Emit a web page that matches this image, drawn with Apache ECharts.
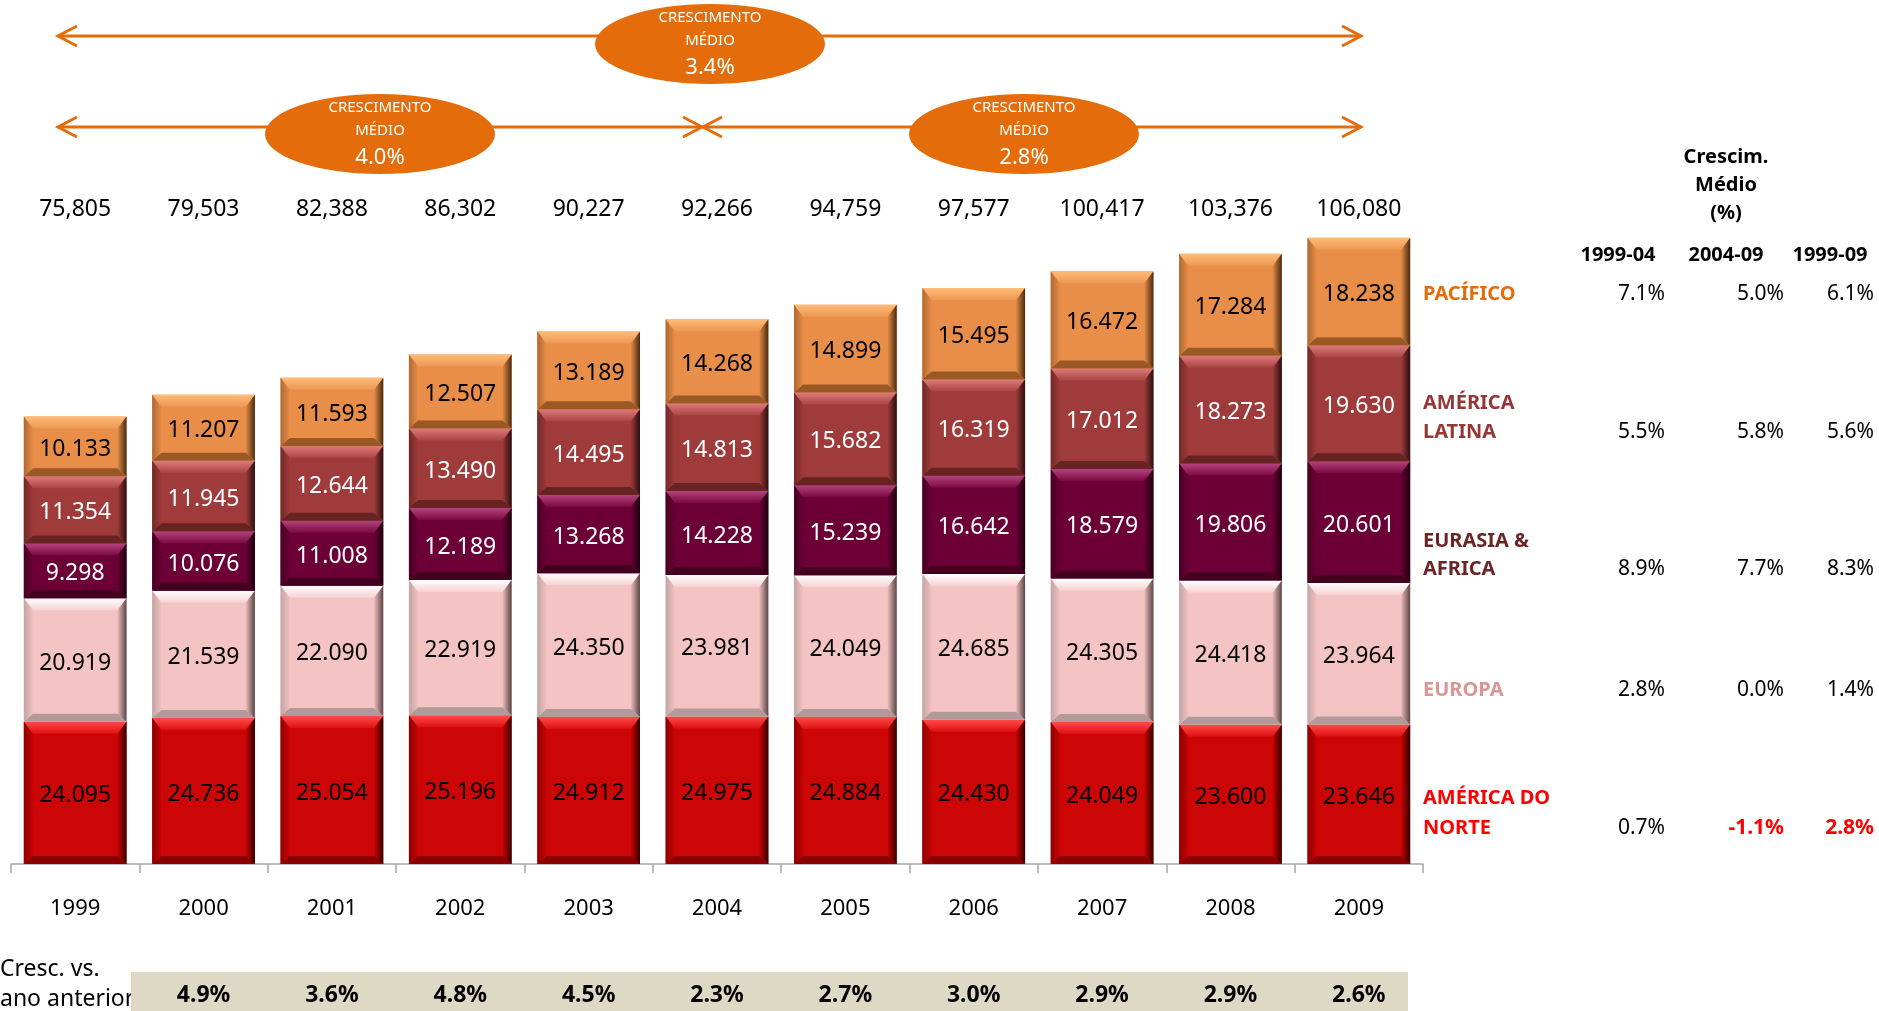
<!DOCTYPE html>
<html><head><meta charset="utf-8">
<script src="https://cdn.jsdelivr.net/npm/echarts@6/dist/echarts.min.js"></script>
<style>html,body{margin:0;padding:0;background:#fff}#c{width:1879px;height:1011px}</style>
</head><body><div id="c"></div>
<script>
// ---------- DATA ----------
const years = ['1999','2000','2001','2002','2003','2004','2005','2006','2007','2008','2009'];
const americaNorte = [24.095, 24.736, 25.054, 25.196, 24.912, 24.975, 24.884, 24.430, 24.049, 23.600, 23.646];
const europa       = [20.919, 21.539, 22.090, 22.919, 24.350, 23.981, 24.049, 24.685, 24.305, 24.418, 23.964];
const eurasiaAfrica= [9.298, 10.076, 11.008, 12.189, 13.268, 14.228, 15.239, 16.642, 18.579, 19.806, 20.601];
const americaLatina= [11.354, 11.945, 12.644, 13.490, 14.495, 14.813, 15.682, 16.319, 17.012, 18.273, 19.630];
const pacifico     = [10.133, 11.207, 11.593, 12.507, 13.189, 14.268, 14.899, 15.495, 16.472, 17.284, 18.238];
const totals = [75805, 79503, 82388, 86302, 90227, 92266, 94759, 97577, 100417, 103376, 106080];
const growthVsPrev = [null, 4.9, 3.6, 4.8, 4.5, 2.3, 2.7, 3.0, 2.9, 2.9, 2.6];
const avgGrowth = [3.4, 4.0, 2.8]; // 1999-09, 1999-04, 2004-09
const periodLabels = ['1999-04', '2004-09', '1999-09'];
const regionNames = [['PACÍFICO'], ['AMÉRICA', 'LATINA'], ['EURASIA &', 'AFRICA'], ['EUROPA'], ['AMÉRICA DO', 'NORTE']];
const cagr9904 = [7.1, 5.5, 8.9, 2.8, 0.7];
const cagr0409 = [5.0, 5.8, 7.7, 0.0, -1.1];
const cagr9909 = [6.1, 5.6, 8.3, 1.4, 2.8];

// ---------- STYLE ----------
const FONT = '"Noto Sans", "Open Sans", sans-serif';
const seriesDefs = [
  {name:'AMÉRICA DO NORTE', data: americaNorte, base:'#CC0606', top:['#FF4A4A','#DE1010'], bottom:'#8A0000', left:['#8E0000','#C40404'], right:['#C40404','#330000'], label:'#000'},
  {name:'EUROPA', data: europa, base:'#F4C4C4', top:['#FFFFFF','#F6D2D2'], bottom:'#B39A9A', left:['#C4A4A4','#F0C0C0'], right:['#EBBABA','#5A4646'], label:'#000'},
  {name:'EURASIA & AFRICA', data: eurasiaAfrica, base:'#6C0036', top:['#B4447E','#7A0842'], bottom:'#42001E', left:['#48001F','#680034'], right:['#680034','#1E000E'], label:'#fff'},
  {name:'AMÉRICA LATINA', data: americaLatina, base:'#A03B3C', top:['#E07A7A','#A84444'], bottom:'#672222', left:['#742828','#9C3A3A'], right:['#9C3A3A','#2C0F0F'], label:'#fff'},
  {name:'PACÍFICO', data: pacifico, base:'#E98E49', top:['#FFBC78','#EC9852'], bottom:'#9A5824', left:['#B06830','#E48C48'], right:['#E08A46','#4A2A10'], label:'#000'}
];

function grad(c, horiz) {
  return new echarts.graphic.LinearGradient(0, 0, horiz ? 1 : 0, horiz ? 0 : 1, [{offset:0,color:c[0]},{offset:1,color:c[1]}]);
}

// stacked bases
const bases = years.map(() => 0);
const series = seriesDefs.map(def => {
  const data = def.data.map((v, i) => {
    const b = bases[i];
    bases[i] += v;
    return [i, b, b + v, v];
  });
  return {
    type: 'custom', name: def.name, coordinateSystem: 'cartesian2d', xAxisIndex: 0, yAxisIndex: 0,
    encode: {x: 0, y: [1, 2]},
    data,
    renderItem: function (params, api) {
      const xi = api.value(0);
      const pTop = api.coord([xi, api.value(2)]);
      const pBot = api.coord([xi, api.value(1)]);
      const bw = api.size([1, 0])[0] * 0.8;
      const x0 = pTop[0] - bw / 2, x1 = x0 + bw;
      const y0 = pTop[1], y1 = pBot[1];
      const h = y1 - y0;
      const bt = Math.min(12, h / 3), bb = Math.min(8, h / 4), bs = 9;
      return {
        type: 'group',
        children: [
          {type:'rect', shape:{x:x0, y:y0, width:bw, height:h}, style:{fill:def.base}},
          {type:'polygon', shape:{points:[[x0,y0],[x1,y0],[x1-bs,y0+bt],[x0+bs,y0+bt]]}, style:{fill:grad(def.top,false)}},
          {type:'polygon', shape:{points:[[x0,y1],[x1,y1],[x1-bs,y1-bb],[x0+bs,y1-bb]]}, style:{fill:def.bottom}},
          {type:'polygon', shape:{points:[[x0,y0],[x0+bs,y0+bt],[x0+bs,y1-bb],[x0,y1]]}, style:{fill:grad(def.left,true)}},
          {type:'polygon', shape:{points:[[x1,y0],[x1-bs,y0+bt],[x1-bs,y1-bb],[x1,y1]]}, style:{fill:grad(def.right,true)}},
          {type:'text', style:{text: api.value(3).toFixed(3), x:(x0+x1)/2, y:(y0+y1)/2 + 3, fill:def.label,
            fontSize:23, fontFamily:FONT, align:'center', verticalAlign:'middle'}}
        ]
      };
    }
  };
});

// ---------- GRAPHIC (annotations) ----------
const ORANGE = '#E46C0A';
const graphics = [];
function arrow(xa, xb, y) {
  graphics.push({type:'line', shape:{x1:xa, y1:y, x2:xb, y2:y}, style:{stroke:ORANGE, lineWidth:3}, z:1});
  graphics.push({type:'polyline', shape:{points:[[xa+19,y-10],[xa,y],[xa+19,y+10]]}, style:{stroke:ORANGE, lineWidth:3, fill:null}, z:1});
  graphics.push({type:'polyline', shape:{points:[[xb-19,y-10],[xb,y],[xb-19,y+10]]}, style:{stroke:ORANGE, lineWidth:3, fill:null}, z:1});
}
function bubble(cx, cy, val) {
  graphics.push({type:'circle', x:cx, y:cy, scaleY:40/115, shape:{cx:0, cy:0, r:115}, style:{fill:ORANGE}, z:2});
  graphics.push({type:'text', x:cx, y:cy-26, style:{text:'CRESCIMENTO', fill:'#fff', fontSize:15, fontFamily:FONT, align:'center', verticalAlign:'middle'}, z:3});
  graphics.push({type:'text', x:cx, y:cy-3, style:{text:'MÉDIO', fill:'#fff', fontSize:15, fontFamily:FONT, align:'center', verticalAlign:'middle'}, z:3});
  graphics.push({type:'text', x:cx, y:cy+24, style:{text:val.toFixed(1)+'%', fill:'#fff', fontSize:22, fontFamily:FONT, align:'center', verticalAlign:'middle'}, z:3});
}
arrow(58, 1361, 36);
arrow(58, 702, 127);
arrow(703, 1361, 127);
bubble(710, 44, avgGrowth[0]);
bubble(380, 134, avgGrowth[1]);
bubble(1024, 134, avgGrowth[2]);

// bottom "Cresc. vs. ano anterior" + beige band
graphics.push({type:'text', x:0, y:969, style:{text:'Cresc. vs.', fill:'#000', fontSize:23, fontFamily:FONT, align:'left', verticalAlign:'middle'}, z:1});
graphics.push({type:'text', x:0, y:999, style:{text:'ano anterior', fill:'#000', fontSize:23, fontFamily:FONT, align:'left', verticalAlign:'middle'}, z:1});
graphics.push({type:'rect', shape:{x:131, y:972, width:1277, height:45}, style:{fill:'#DDD9C4'}, z:2});

// right table
const tx = {head:1726, colC:[1618,1726,1830], colR:[1665,1784,1874], label:1423};
[['Crescim.',157],['Médio',185],['(%)',213]].forEach(([t,y]) => {
  graphics.push({type:'text', x:tx.head, y:y, style:{text:t, fill:'#000', fontSize:20, fontWeight:'bold', fontFamily:FONT, align:'center', verticalAlign:'middle'}});
});
periodLabels.forEach((t, i) => {
  graphics.push({type:'text', x:tx.colC[i], y:255, style:{text:t, fill:'#000', fontSize:20, fontWeight:'bold', fontFamily:FONT, align:'center', verticalAlign:'middle'}});
});
const regionColors = ['#E46C0A', '#953735', '#6B2526', '#D99694', '#FF0000'];
const rowLabelY = [[294], [403, 432], [541, 569], [690], [798, 828]];
const rowValY = [294, 432, 569, 690, 828];
regionNames.forEach((lines, r) => {
  lines.forEach((t, k) => {
    graphics.push({type:'text', x:tx.label, y:rowLabelY[r][k], style:{text:t, fill:regionColors[r], fontSize:20, fontWeight:'bold', fontFamily:FONT, align:'left', verticalAlign:'middle'}});
  });
  [cagr9904, cagr0409, cagr9909].forEach((arr, c) => {
    const red = (r === 4 && c > 0);
    graphics.push({type:'text', x:tx.colR[c], y:rowValY[r], style:{text:arr[r].toFixed(1)+'%', fill: red ? '#FF0000' : '#000', fontSize:21, fontWeight: red ? 'bold' : 'normal', fontFamily:FONT, align:'right', verticalAlign:'middle'}});
  });
});

// ---------- CHART ----------
const chart = echarts.init(document.getElementById('c'), null, {renderer:'canvas'});
chart.setOption({
  animation: false,
  backgroundColor: '#fff',
  grid: {left: 11, right: 456, top: 230, bottom: 147, containLabel: false},
  xAxis: [
    {type:'category', data: years, position:'bottom', boundaryGap:true,
     axisLine:{show:true, lineStyle:{color:'#A6A6A6', width:1.5}},
     axisTick:{show:true, length:9, alignWithLabel:false, lineStyle:{color:'#A6A6A6', width:1.5}},
     axisLabel:{margin:34, fontSize:22, color:'#000', fontFamily:FONT}},
    {type:'category', data: totals.map(v => v.toLocaleString('en-US')), position:'top', boundaryGap:true,
     axisLine:{show:false}, axisTick:{show:false},
     axisLabel:{margin:9, fontSize:23, color:'#000', fontFamily:FONT}},
    {type:'category', data: growthVsPrev.map(v => v == null ? '' : v.toFixed(1) + '%'), position:'bottom', offset:108, boundaryGap:true, z:10,
     axisLine:{show:false}, axisTick:{show:false},
     axisLabel:{margin:12, fontSize:23, fontWeight:'bold', color:'#000', fontFamily:FONT}}
  ],
  yAxis: {type:'value', min:0, max:107.4, show:false, splitLine:{show:false}},
  series: series,
  graphic: graphics
});
</script>
</body></html>
